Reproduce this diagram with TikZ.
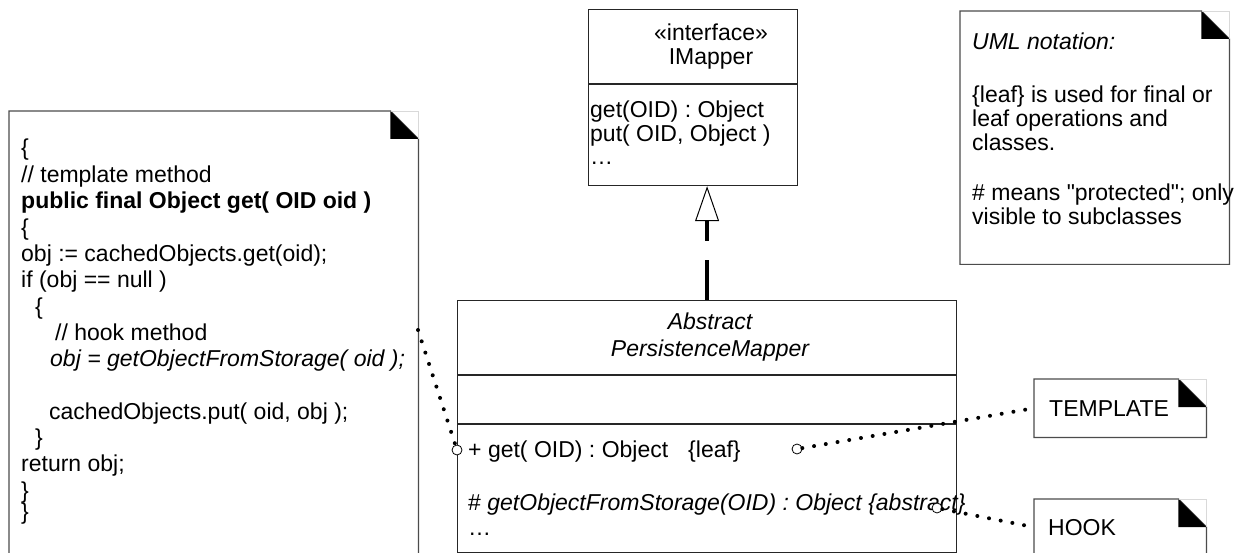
\documentclass[tikz,border=0pt]{standalone}
\usepackage{fontspec}
\setmainfont{Liberation Sans}[Ligatures=TeXOff]
\usetikzlibrary{arrows.meta}
\newcommand\dfont{\fontsize{23}{26}\selectfont}
\newcommand\notebox[1]{%
  \draw[noteline] (#1.north west) -- ([xshift=-28pt]#1.north east) -- ([yshift=-28pt]#1.north east) -- (#1.south east) -- (#1.south west) -- cycle;
  \draw[black!15, line width=0.8pt] ([xshift=-28pt]#1.north east) -- (#1.north east) -- ([yshift=-28pt]#1.north east);
  \fill[black] ([xshift=-28pt]#1.north east) -- ([xshift=-28pt,yshift=-28pt]#1.north east) -- ([yshift=-28pt]#1.north east) -- cycle;
}
\tikzset{
  box/.style={draw=black!85, line width=1.2pt, inner sep=0pt, rectangle},
  notearea/.style={draw=none, inner sep=0pt, rectangle},
  noteline/.style={draw=black!70, line width=1.2pt},
  txt/.style={inner sep=0pt, anchor=base west, font=\dfont},
  ctxt/.style={inner sep=0pt, anchor=base, font=\dfont},
  port/.style={circle, draw=black, fill=white, line width=0.8pt, inner sep=0pt, minimum size=10pt},
  dotline/.style={line width=4pt, line cap=round, dash pattern=on 0pt off 11.9pt},
  realize/.style={line width=4pt, line cap=butt, dash pattern=on 40pt off 19pt,
    -{Triangle[open, length=35pt, width=24pt, line width=1pt]}},
}
\begin{document}
\begin{tikzpicture}[x=1pt,y=-1pt]
\useasboundingbox (0,0) rectangle (1234,553);
\clip (0,0) rectangle (1234,553);
\fill[white] (0,0) rectangle (1234,553);

% ---------- IMapper ----------
\node[box, minimum width=209pt, minimum height=176pt, anchor=north west] (imapper) at (588,9) {};
\draw[box] (imapper.west |- 0,84) -- (imapper.east |- 0,84);
\node[ctxt] (im1) at (711,40.5) {«interface»};
\node[ctxt] (im2) at (711,65) {IMapper};
\node[txt] (im3) at (590,118) {get(OID) : Object};
\node[txt] (im4) at (590,141.5) {put( OID, Object )};
\node[txt] (im5) at (590,165) {\ldots};

% ---------- AbstractPersistenceMapper ----------
\node[box, minimum width=499pt, minimum height=252pt, anchor=north west] (apm) at (457,300) {};
\draw[box] (apm.west |- 0,375) -- (apm.east |- 0,375);
\draw[box] (apm.west |- 0,424) -- (apm.east |- 0,424);
\node[ctxt] (ap1) at (710,330) {\itshape Abstract};
\node[ctxt] (ap2) at (710,356) {\itshape PersistenceMapper};
\node[txt] (ap3) at (468,457) {+ get( OID) : Object\hspace{20pt}\{leaf\}};
\node[txt] (ap4) at (468,510) {\# \itshape getObjectFromStorage(OID) : Object \{abstract\}};
\node[txt] (ap5) at (468,535) {\ldots};

% realization
\draw[realize] (apm.north) -- (apm.north |- imapper.south);

% ---------- left note ----------
\node[notearea, minimum width=409pt, minimum height=460pt, anchor=north west] (lnote) at (9,111) {};
\notebox{lnote}
\node[txt] (l1) at (21,156) {\{};
\node[txt] (l2) at (21,182.5) {// template method};
\node[txt] (l3) at (21,208.8) {\bfseries public final Object get( OID oid )};
\node[txt] (l4) at (21,235.1) {\{};
\node[txt] (l5) at (21,261.4) {obj := cachedObjects.get(oid);};
\node[txt] (l6) at (21,287.7) {if (obj == null )};
\node[txt] (l7) at (35,314) {\{};
\node[txt] (l8) at (55,340.3) {// hook method};
\node[txt] (l9) at (50,366.6) {\itshape obj = getObjectFromStorage( oid );};
\node[txt] (l11) at (49,419.2) {cachedObjects.put( oid, obj );};
\node[txt] (l12) at (35,445.5) {\}};
\node[txt] (l13) at (21,471.8) {return obj;};
\node[txt] (l14) at (21,498.1) {\}};
\node[txt] (l15) at (21,519) {\}};

% ---------- UML notation note ----------
\node[notearea, minimum width=269pt, minimum height=253pt, anchor=north west] (uml) at (960,11) {};
\notebox{uml}
\node[txt] (u1) at (972,50) {\itshape UML notation:};
\node[txt] (u2) at (972,103) {\{leaf\} is used for final or};
\node[txt] (u3) at (972,127) {leaf operations and};
\node[txt] (u4) at (972,151) {classes.};
\node[txt] (u5) at (972,201) {\# means "protected"; only};
\node[txt] (u6) at (972,225) {visible to subclasses};

% ---------- TEMPLATE / HOOK notes ----------
\node[notearea, minimum width=172pt, minimum height=58pt, anchor=north west] (tmpl) at (1034,379) {};
\notebox{tmpl}
\node[txt] (t1) at (1049,416) {TEMPLATE};
\node[notearea, minimum width=172pt, minimum height=56pt, anchor=north west] (hook) at (1034,499) {};
\notebox{hook}
\node[txt] (h1) at (1048,535) {HOOK};

% ---------- ports and dotted links ----------
\node[port] (c1) at (457,450) {};
\node[port] (c2) at (797,449) {};
\node[port] (c3) at (937,508) {};
\coordinate (lp) at (418,330);
\draw[dotline] (lp) -- (c1);
\draw[dotline] (c2) -- (tmpl.west);
\draw[dotline] (c3) -- (hook.west);
\end{tikzpicture}
\end{document}
